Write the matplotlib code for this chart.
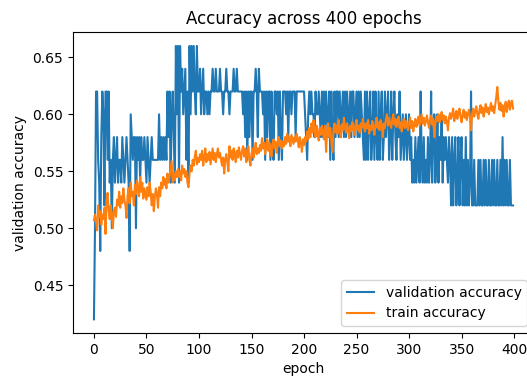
import matplotlib
matplotlib.use("Agg")
import matplotlib.pyplot as plt
import numpy as np

# Validation accuracy per epoch (20 epochs per row)
val_acc = [
    0.42, 0.50, 0.62, 0.62, 0.56, 0.54, 0.48, 0.58, 0.62, 0.60, 0.52, 0.62, 0.62, 0.56, 0.62, 0.54, 0.56, 0.50, 0.56, 0.58,
    0.54, 0.56, 0.58, 0.54, 0.56, 0.56, 0.54, 0.58, 0.56, 0.54, 0.56, 0.58, 0.56, 0.54, 0.48, 0.60, 0.58, 0.56, 0.58, 0.58,
    0.50, 0.58, 0.56, 0.58, 0.54, 0.58, 0.56, 0.56, 0.58, 0.56, 0.54, 0.58, 0.56, 0.54, 0.56, 0.58, 0.56, 0.56, 0.56, 0.56,
    0.56, 0.56, 0.60, 0.56, 0.58, 0.56, 0.58, 0.56, 0.58, 0.56, 0.62, 0.58, 0.62, 0.54, 0.60, 0.62, 0.58, 0.54, 0.66, 0.60,
    0.66, 0.54, 0.66, 0.62, 0.64, 0.60, 0.62, 0.64, 0.56, 0.62, 0.54, 0.66, 0.60, 0.66, 0.62, 0.66, 0.62, 0.60, 0.66, 0.62,
    0.62, 0.64, 0.60, 0.62, 0.64, 0.60, 0.62, 0.62, 0.60, 0.62, 0.60, 0.62, 0.62, 0.64, 0.62, 0.62, 0.64, 0.62, 0.62, 0.62,
    0.64, 0.62, 0.62, 0.60, 0.62, 0.62, 0.64, 0.62, 0.62, 0.60, 0.62, 0.62, 0.62, 0.64, 0.62, 0.62, 0.64, 0.62, 0.62, 0.62,
    0.62, 0.62, 0.60, 0.62, 0.58, 0.62, 0.56, 0.62, 0.58, 0.62, 0.62, 0.56, 0.62, 0.62, 0.64, 0.62, 0.58, 0.64, 0.62, 0.62,
    0.62, 0.60, 0.62, 0.56, 0.62, 0.58, 0.62, 0.62, 0.56, 0.62, 0.58, 0.56, 0.62, 0.62, 0.60, 0.62, 0.56, 0.62, 0.58, 0.56,
    0.62, 0.62, 0.62, 0.60, 0.62, 0.58, 0.62, 0.62, 0.60, 0.62, 0.62, 0.62, 0.58, 0.62, 0.62, 0.62, 0.62, 0.62, 0.62, 0.62,
    0.62, 0.60, 0.58, 0.56, 0.60, 0.62, 0.60, 0.62, 0.60, 0.60, 0.58, 0.62, 0.60, 0.60, 0.62, 0.60, 0.58, 0.62, 0.58, 0.62,
    0.58, 0.62, 0.60, 0.58, 0.62, 0.56, 0.62, 0.58, 0.56, 0.62, 0.58, 0.62, 0.62, 0.58, 0.62, 0.58, 0.60, 0.62, 0.58, 0.62,
    0.58, 0.62, 0.60, 0.58, 0.62, 0.58, 0.62, 0.62, 0.58, 0.60, 0.62, 0.58, 0.62, 0.58, 0.62, 0.60, 0.58, 0.56, 0.62, 0.56,
    0.62, 0.56, 0.60, 0.62, 0.56, 0.58, 0.62, 0.56, 0.62, 0.58, 0.56, 0.62, 0.56, 0.60, 0.62, 0.56, 0.58, 0.62, 0.58, 0.60,
    0.62, 0.56, 0.58, 0.62, 0.56, 0.60, 0.62, 0.58, 0.56, 0.60, 0.58, 0.62, 0.56, 0.58, 0.60, 0.56, 0.58, 0.60, 0.56, 0.58,
    0.60, 0.56, 0.58, 0.54, 0.56, 0.54, 0.58, 0.54, 0.56, 0.58, 0.54, 0.62, 0.56, 0.54, 0.58, 0.54, 0.56, 0.54, 0.58, 0.54,
    0.56, 0.62, 0.54, 0.58, 0.60, 0.54, 0.56, 0.60, 0.54, 0.58, 0.56, 0.60, 0.54, 0.58, 0.56, 0.58, 0.56, 0.54, 0.58, 0.56,
    0.52, 0.58, 0.52, 0.56, 0.58, 0.52, 0.54, 0.58, 0.52, 0.56, 0.58, 0.52, 0.56, 0.52, 0.58, 0.52, 0.56, 0.52, 0.54, 0.62,
    0.52, 0.52, 0.56, 0.52, 0.52, 0.52, 0.56, 0.52, 0.56, 0.52, 0.52, 0.56, 0.52, 0.56, 0.52, 0.52, 0.56, 0.52, 0.52, 0.56,
    0.52, 0.56, 0.52, 0.52, 0.56, 0.52, 0.52, 0.56, 0.52, 0.58, 0.52, 0.56, 0.52, 0.56, 0.52, 0.52, 0.56, 0.52, 0.52, 0.52,
]

# Train accuracy per epoch
train_acc = [
    0.507, 0.512, 0.505, 0.498, 0.520, 0.510, 0.515, 0.503, 0.512, 0.508, 0.518, 0.495, 0.525, 0.531, 0.515, 0.508, 0.520, 0.512, 0.500, 0.515,
    0.518, 0.510, 0.525, 0.520, 0.532, 0.518, 0.528, 0.522, 0.535, 0.525, 0.520, 0.509, 0.528, 0.535, 0.522, 0.540, 0.528, 0.532, 0.520, 0.538,
    0.530, 0.542, 0.535, 0.528, 0.545, 0.532, 0.540, 0.526, 0.535, 0.530, 0.525, 0.536, 0.528, 0.540, 0.532, 0.520, 0.530, 0.515, 0.528, 0.535,
    0.530, 0.518, 0.536, 0.528, 0.540, 0.535, 0.545, 0.538, 0.543, 0.535, 0.548, 0.540, 0.545, 0.552, 0.559, 0.540, 0.548, 0.542, 0.550, 0.545,
    0.552, 0.545, 0.550, 0.542, 0.555, 0.548, 0.552, 0.545, 0.550, 0.540, 0.536, 0.548, 0.555, 0.550, 0.560, 0.555, 0.563, 0.568, 0.556, 0.562,
    0.558, 0.565, 0.560, 0.568, 0.555, 0.562, 0.570, 0.558, 0.565, 0.560, 0.567, 0.556, 0.563, 0.570, 0.560, 0.566, 0.558, 0.565, 0.570, 0.562,
    0.566, 0.560, 0.555, 0.562, 0.548, 0.560, 0.565, 0.558, 0.550, 0.572, 0.562, 0.568, 0.560, 0.570, 0.565, 0.558, 0.568, 0.562, 0.571, 0.565,
    0.560, 0.568, 0.572, 0.563, 0.570, 0.558, 0.566, 0.572, 0.560, 0.555, 0.565, 0.570, 0.562, 0.568, 0.575, 0.565, 0.570, 0.566, 0.573, 0.568,
    0.579, 0.570, 0.575, 0.565, 0.572, 0.578, 0.568, 0.575, 0.570, 0.563, 0.574, 0.578, 0.570, 0.576, 0.566, 0.575, 0.580, 0.572, 0.577, 0.570,
    0.576, 0.572, 0.580, 0.574, 0.583, 0.576, 0.580, 0.572, 0.582, 0.578, 0.574, 0.580, 0.576, 0.583, 0.578, 0.571, 0.580, 0.575, 0.567, 0.578,
    0.573, 0.580, 0.576, 0.585, 0.578, 0.588, 0.580, 0.592, 0.584, 0.595, 0.586, 0.580, 0.590, 0.583, 0.577, 0.588, 0.582, 0.590, 0.584, 0.578,
    0.590, 0.567, 0.585, 0.592, 0.580, 0.588, 0.575, 0.567, 0.586, 0.592, 0.584, 0.590, 0.583, 0.595, 0.587, 0.580, 0.591, 0.586, 0.597, 0.588,
    0.584, 0.592, 0.586, 0.579, 0.590, 0.585, 0.593, 0.588, 0.582, 0.591, 0.595, 0.586, 0.590, 0.584, 0.592, 0.588, 0.596, 0.590, 0.585, 0.592,
    0.588, 0.595, 0.583, 0.590, 0.586, 0.594, 0.589, 0.582, 0.591, 0.597, 0.588, 0.593, 0.586, 0.595, 0.590, 0.580, 0.592, 0.588, 0.596, 0.600,
    0.590, 0.597, 0.592, 0.588, 0.595, 0.600, 0.591, 0.596, 0.589, 0.594, 0.598, 0.588, 0.593, 0.585, 0.591, 0.596, 0.588, 0.594, 0.590, 0.586,
    0.592, 0.597, 0.588, 0.594, 0.585, 0.591, 0.596, 0.589, 0.593, 0.598, 0.590, 0.595, 0.600, 0.592, 0.597, 0.590, 0.594, 0.599, 0.593, 0.588,
    0.595, 0.599, 0.591, 0.596, 0.580, 0.592, 0.598, 0.594, 0.600, 0.593, 0.597, 0.602, 0.595, 0.599, 0.592, 0.598, 0.594, 0.586, 0.597, 0.601,
    0.596, 0.600, 0.605, 0.594, 0.599, 0.603, 0.596, 0.601, 0.605, 0.598, 0.593, 0.600, 0.604, 0.597, 0.602, 0.595, 0.600, 0.604, 0.598, 0.586,
    0.600, 0.605, 0.598, 0.603, 0.607, 0.600, 0.596, 0.604, 0.608, 0.601, 0.606, 0.598, 0.603, 0.609, 0.602, 0.606, 0.600, 0.605, 0.610, 0.603,
    0.607, 0.601, 0.608, 0.615, 0.624, 0.612, 0.604, 0.610, 0.603, 0.608, 0.598, 0.606, 0.611, 0.602, 0.608, 0.612, 0.604, 0.610, 0.612, 0.605,
]

epochs = np.arange(len(val_acc))

plt.rcParams.update({
    "font.size": 10,
    "lines.linewidth": 1.5,
})

fig = plt.figure(figsize=(5.27, 3.79), dpi=100)
# axes run slightly past the right edge, as in the cropped reference
ax = fig.add_axes([0.1385, 0.1214, 0.8748, 0.7934])

ax.plot(epochs, val_acc, label="validation accuracy")
ax.plot(epochs, train_acc, label="train accuracy")

ax.set_title("Accuracy across 400 epochs", fontsize=12)
ax.set_xlabel("epoch")
ax.set_ylabel("validation accuracy")
ax.legend(loc="lower right")

fig.savefig("out.png", dpi=100, facecolor="white")
